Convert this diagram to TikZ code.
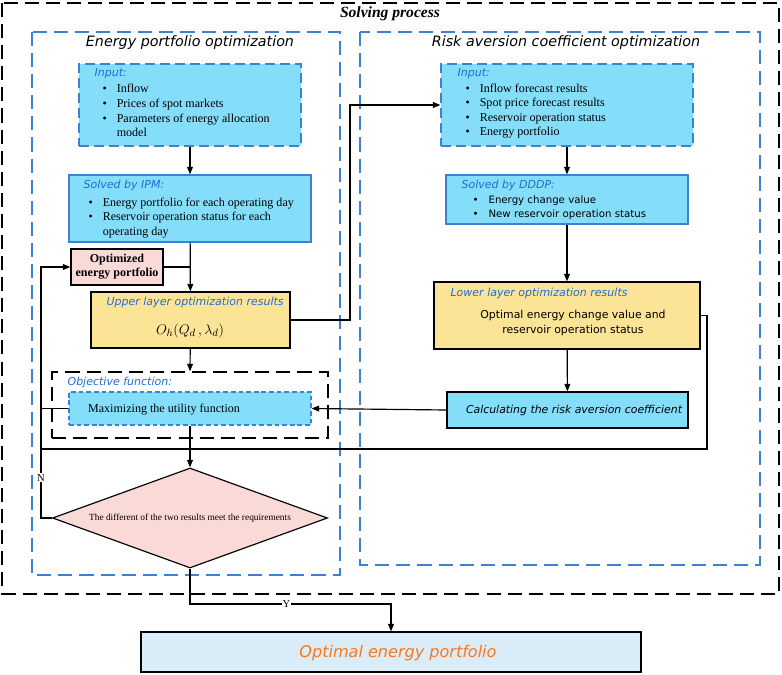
\documentclass[tikz,border=0pt]{standalone}
\usepackage{fontspec}
\setmainfont{Liberation Serif}
\newfontfamily\vsans{DejaVu Sans}
\usetikzlibrary{shapes.geometric,arrows.meta}

\definecolor{cyanfill}{RGB}{132,222,250}
\definecolor{lineblue}{RGB}{60,130,212}
\definecolor{txtblue}{RGB}{30,110,210}
\definecolor{yellowfill}{RGB}{252,228,150}
\definecolor{pinkfill}{RGB}{250,218,215}
\definecolor{palefill}{RGB}{218,236,248}
\definecolor{txtorange}{RGB}{250,120,25}

\tikzset{
  frame/.style={dash pattern=on 12pt off 6pt, line width=1pt},
  cbox/.style={draw, fill=cyanfill, inner sep=0pt},
  bluedash/.style={draw=lineblue, dash pattern=on 8.5pt off 4.3pt},
  ybox/.style={draw, fill=yellowfill, inner sep=0pt},
  ttl/.style={font=\vsans\itshape\fontsize{12.2}{14}\selectfont, inner sep=0pt},
  hdr/.style={font=\vsans\itshape\fontsize{9.4}{11}\selectfont, text=txtblue, inner sep=0pt, anchor=base west},
  serlist/.style={font=\fontsize{10.3}{12.5}\selectfont, inner sep=0pt, anchor=base west},
  sanlist/.style={font=\vsans\fontsize{8.7}{12}\selectfont, inner sep=0pt, anchor=base west},
  lbl/.style={font=\fontsize{9}{10}\selectfont, fill=white, inner sep=1pt},
}
\newcommand{\bitems}[1]{\begin{tabular}[t]{@{}l@{\hspace{8.5pt}}l@{}}#1\end{tabular}}

\begin{document}
\begin{tikzpicture}[x=0.03cm, y=-0.03cm, line width=1pt, >={Triangle[length=6.5pt,width=5pt]}]
\useasboundingbox (0,0) rectangle (782,675);
% frames
\draw[frame] (2,3) rectangle (779,594);
\draw[frame, lineblue] (32,32) rectangle (340,575);
\draw[frame, lineblue] (360,32) rectangle (760,565);
\node[font=\bfseries\itshape\fontsize{13.3}{15}\selectfont, inner sep=0pt] (solv) at (390,14) {Solving process};
\node[ttl] (ltitle) at (190,43) {Energy portfolio optimization};
\node[ttl] (rtitle) at (566,43) {Risk aversion coefficient optimization};

% left column
\node[cbox, bluedash, minimum width=6.66cm, minimum height=2.46cm] (inL) at (190,105) {};
\node[hdr] (inLh) at (94,77) {Input:};
\node[serlist] (inLl) at (102,93) {\bitems{\textbullet & Inflow\\ \textbullet & Prices of spot markets\\ \textbullet & Parameters of energy allocation\\ & model}};

\node[cbox, draw=lineblue, minimum width=7.26cm, minimum height=2.01cm] (ipm) at (190,208.5) {};
\node[hdr] (ipmh) at (83,188) {Solved by IPM:};
\node[serlist] (ipml) at (88,206) {\bitems{\textbullet & Energy portfolio for each operating day\\ \textbullet & Reservoir operation status for each\\ & operating day}};

\node[draw, fill=pinkfill, minimum width=2.76cm, minimum height=1.08cm, inner sep=0pt, align=center,
  font=\bfseries\fontsize{10.3}{12}\selectfont] (optport) at (117,267) {Optimized\\energy portfolio};

\node[ybox, minimum width=5.97cm, minimum height=1.68cm] (upper) at (190.5,320) {};
\node[hdr] (upperh) at (106,305) {Upper layer optimization results};
\node[font=\fontsize{12.5}{14}\selectfont, inner sep=0pt] (upperf) at (190,331) {$O_h(Q_d\,,\lambda_d)$};

\node[draw, dash pattern=on 12pt off 6pt, minimum width=8.28cm, minimum height=1.98cm, inner sep=0pt] (objbox) at (190,405) {};
\node[hdr] (objh) at (67,385) {Objective function:};
\node[cbox, draw=lineblue, dash pattern=on 4pt off 2.5pt, minimum width=7.26cm, minimum height=0.99cm] (maxu) at (190,408.5) {};
\node[font=\fontsize{10.3}{12}\selectfont, inner sep=0pt] (maxut) at (164,410) {Maximizing the utility function};

\node[diamond, draw, fill=pinkfill, minimum width=8.25cm, minimum height=3cm, inner sep=0pt] (diam) at (190,518) {};
\node[font=\fontsize{8}{9}\selectfont, inner sep=0pt] (diamt) at (190,518) {The different of the two results meet the requirements};

\node[draw, fill=palefill, minimum width=15cm, minimum height=1.2cm, inner sep=0pt] (final) at (391,652) {};
\node[font=\vsans\itshape\fontsize{13.7}{15}\selectfont, text=txtorange, inner sep=0pt] (finalt) at (398,653) {Optimal energy portfolio};

% right column
\node[cbox, bluedash, minimum width=7.56cm, minimum height=2.46cm] (inR) at (567,105) {};
\node[hdr] (inRh) at (457,77) {Input:};
\node[serlist] (inRl) at (465,92) {\bitems{\textbullet & Inflow forecast results\\ \textbullet & Spot price forecast results\\ \textbullet & Reservoir operation status\\ \textbullet & Energy portfolio}};

\node[cbox, draw=lineblue, minimum width=7.26cm, minimum height=1.47cm] (dddp) at (567,199.5) {};
\node[hdr] (dddph) at (461,188) {Solved by DDDP:};
\node[sanlist] (dddpl) at (472,203) {\bitems{\textbullet & Energy change value\\ \textbullet & New reservoir operation status}};

\node[ybox, minimum width=7.98cm, minimum height=2.01cm] (lower) at (567,315.5) {};
\node[hdr] (lowerh) at (450,296) {Lower layer optimization results};
\node[font=\vsans\fontsize{9.3}{12}\selectfont, align=center, inner sep=0pt] (lowert) at (573,323) {Optimal energy change value and\\reservoir operation status};

\node[cbox, minimum width=7.23cm, minimum height=1.08cm] (calc) at (567.5,410) {};
\node[font=\vsans\itshape\fontsize{9.3}{11}\selectfont, inner sep=0pt] (calct) at (574,410) {Calculating the risk aversion coefficient};

% helper coordinates
\coordinate (nx) at (41,0);
\coordinate (rx) at (350,0);
\coordinate (rx2) at (707,0);
\coordinate (jy) at (0,449);
\coordinate (yy) at (0,604);

% connectors
\draw[->] (inL) -- (ipm);
\draw[->] (ipm) -- (upper);
\draw (optport.east) -- (optport.east -| upper.north);
\draw[->] (diam.west) -- (diam.west -| nx) -- node[lbl, pos=0.16]{N} (nx |- optport.west) -- (optport.west);
\draw[->] (upper.east) -- (upper.east -| rx) -- (rx |- inR.west) -- (inR.west);
\draw[->] (upper) -- (objbox.north);
\draw (maxu.west) -- (maxu.west -| nx);
\draw[->] (calc.west) -- (maxu.east);
\draw[->] (maxu.south) -- (diam.north);
\draw (lower.east) -- (lower.east -| rx2) -- (rx2 |- jy) -- (nx |- jy);
\draw[->] (diam.south) -- (diam.south |- yy) -- node[lbl, pos=0.48]{Y} (final.north |- yy) -- (final.north);
\draw[->] (inR) -- (dddp);
\draw[->] (dddp) -- (lower);
\draw[->] (lower) -- (calc);
\end{tikzpicture}
\end{document}
